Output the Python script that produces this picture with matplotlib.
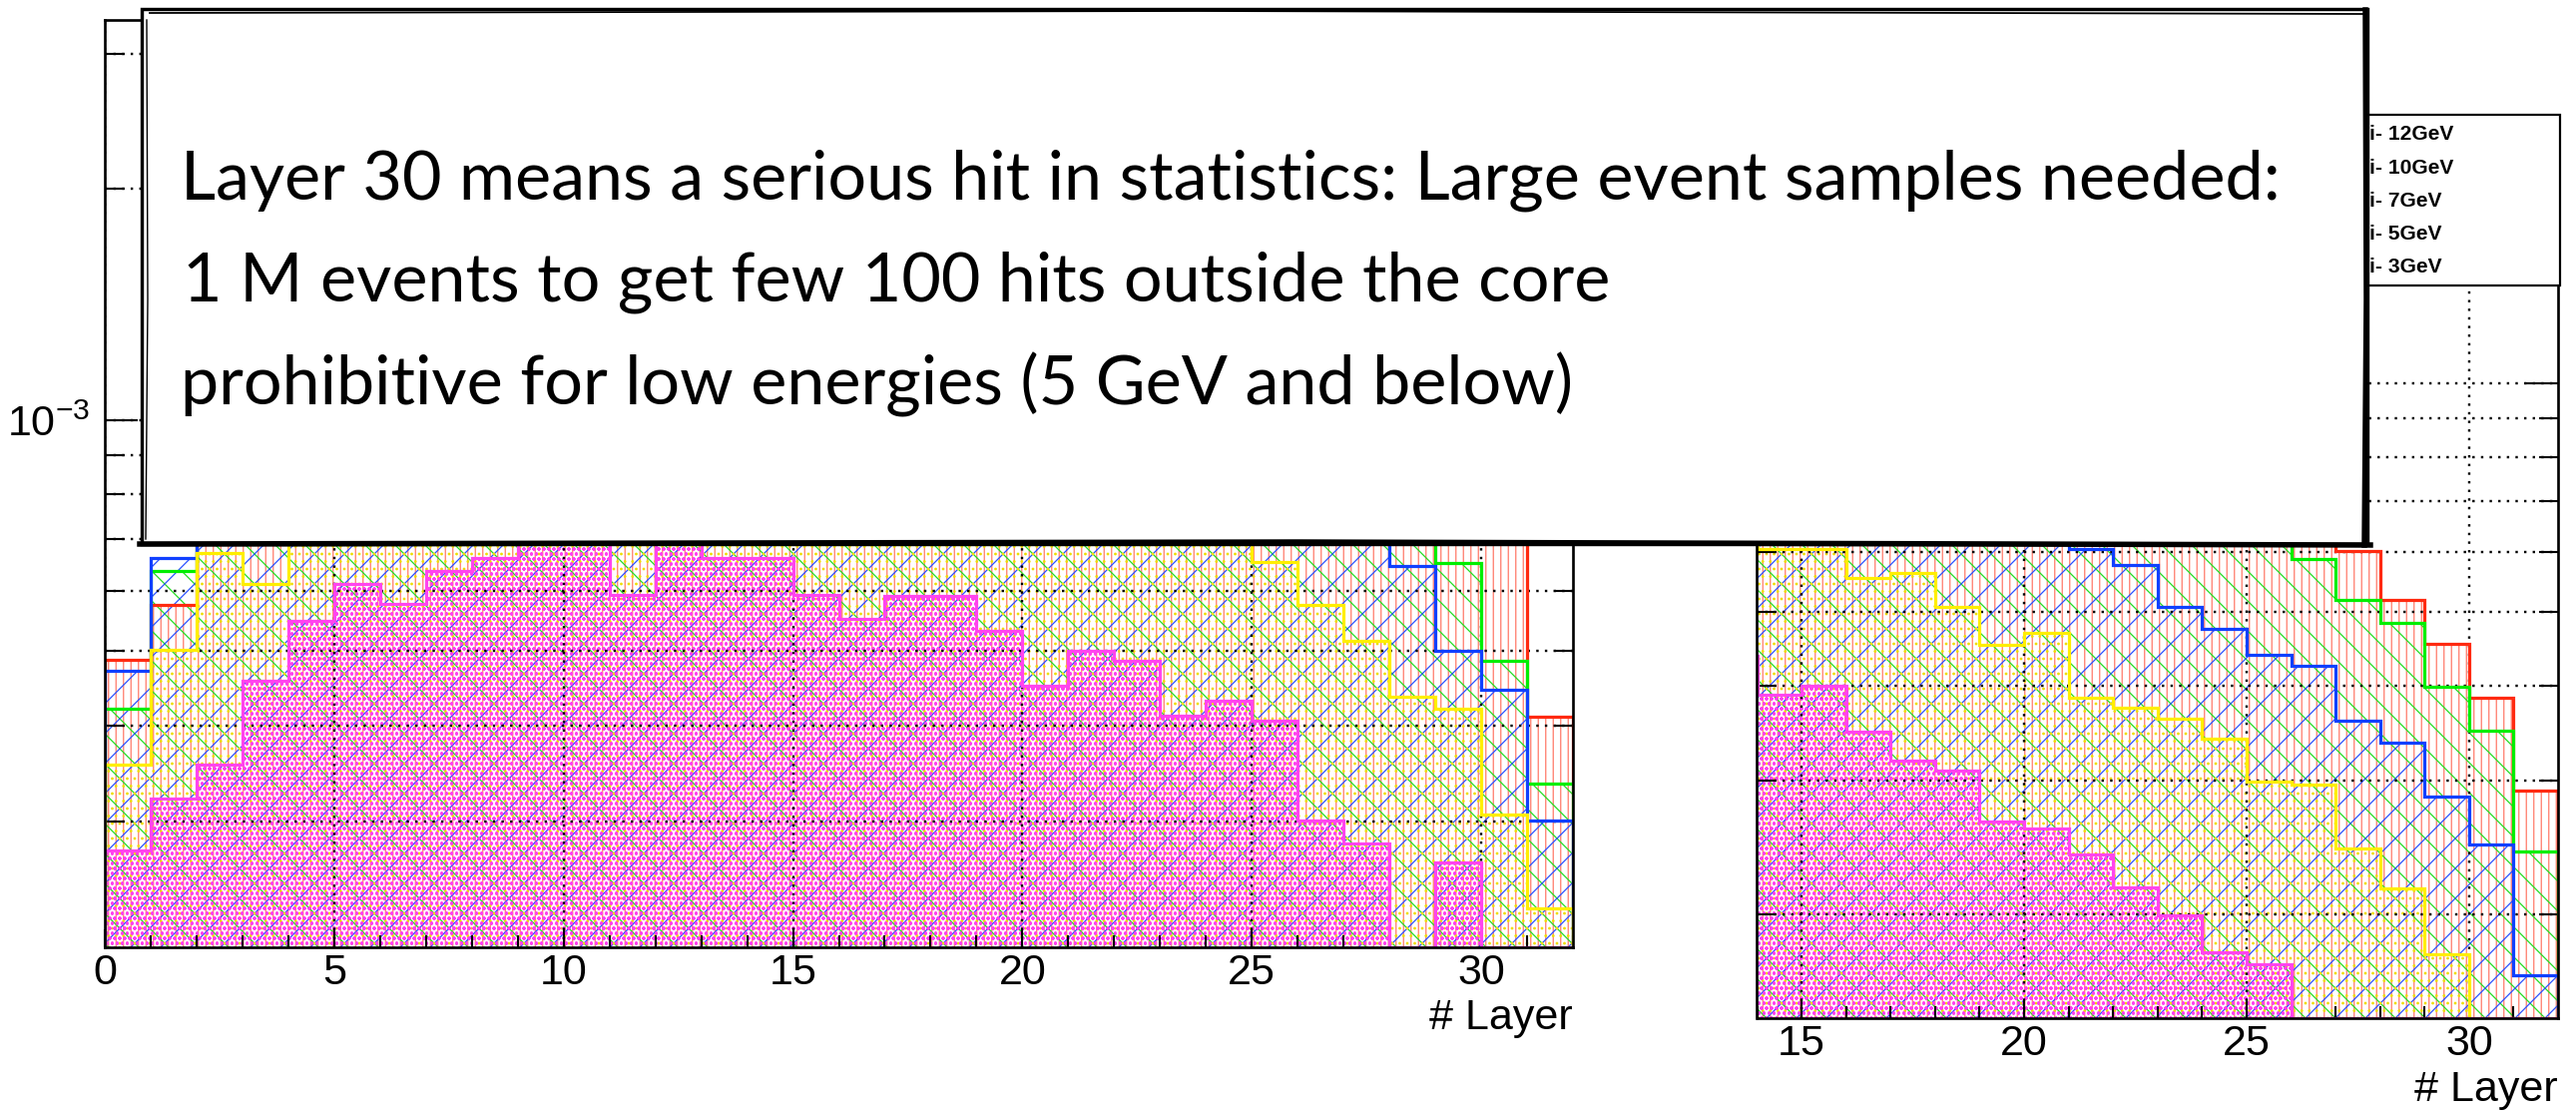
import numpy as np
import matplotlib
matplotlib.use("Agg")
import matplotlib.pyplot as plt
from matplotlib.patches import Rectangle
from matplotlib.ticker import LogLocator, MultipleLocator, NullFormatter

W, H, DPI = 2581, 1114, 90


def P(px):
    """pixel size -> points at the figure dpi"""
    return px * 72.0 / DPI


plt.rcParams['font.family'] = ['Liberation Sans', 'DejaVu Sans']
plt.rcParams['mathtext.fontset'] = 'custom'
plt.rcParams['mathtext.rm'] = 'Liberation Sans'
plt.rcParams['mathtext.it'] = 'Liberation Sans:italic'
plt.rcParams['mathtext.bf'] = 'Liberation Sans:bold'
plt.rcParams['hatch.linewidth'] = P(1.25)

# ---------------- data ----------------
labels = ['Pi- 12GeV', 'Pi- 10GeV', 'Pi- 7GeV', 'Pi- 5GeV', 'Pi- 3GeV']

# left panel: layers 0..31, values in units of 1e-4
left_edges = np.arange(0, 33)
left_12 = np.array([4.87, 5.74, 7.2, 8.0, 8.8, 9.5, 10.2, 10.8, 11.3, 11.8, 12.2, 12.5,
                    12.7, 12.9, 13.0, 13.0, 12.9, 12.8, 12.6, 12.4, 12.1, 11.8, 11.4,
                    11.0, 10.6, 10.2, 9.7, 9.2, 8.7, 8.2, 7.6, 4.11]) * 1e-4
left_10 = np.array([4.21, 6.36, 7.4, 8.2, 9.0, 9.7, 10.3, 10.8, 11.2, 11.6, 11.9, 12.1,
                    12.2, 12.2, 12.1, 12.0, 11.8, 11.6, 11.3, 11.0, 10.7, 10.3, 9.9,
                    9.5, 9.1, 8.7, 8.2, 7.7, 7.2, 6.51, 4.86, 3.36]) * 1e-4
left_7 = np.array([4.71, 6.61, 7.5, 8.3, 9.0, 9.6, 10.1, 10.5, 10.8, 11.0, 11.2, 11.3,
                   11.3, 11.2, 11.1, 10.9, 10.7, 10.4, 10.1, 9.8, 9.5, 9.1, 8.8,
                   8.4, 8.0, 7.7, 7.4, 7.1, 6.46, 5.01, 4.46, 3.01]) * 1e-4
left_5 = np.array([3.56, 5.02, 6.71, 6.12, 7.5, 8.0, 8.4, 8.7, 9.0, 9.2, 9.3, 9.4,
                   9.4, 9.3, 9.2, 9.1, 8.9, 8.7, 8.5, 8.2, 8.0, 7.7, 7.4, 7.2,
                   7.0, 6.53, 5.75, 5.16, 4.36, 4.21, 3.06, 2.31]) * 1e-4
left_3 = np.array([2.75, 3.21, 3.56, 4.57, 5.47, 6.12, 5.76, 6.36, 6.61, 7.0, 7.2, 5.92,
                   7.1, 6.61, 6.61, 5.92, 5.51, 5.91, 5.91, 5.32, 4.51, 5.01, 4.86,
                   4.12, 4.31, 4.06, 3.01, 2.81, 0.0, 2.65, 0.0, 0.0]) * 1e-4

# right panel: layers 13..31 (shown from 14), values in units of 1e-4
right_edges = np.arange(13, 33)
right_12 = np.array([16.8, 16.0, 15.2, 14.5, 13.8, 13.0, 12.2, 11.4, 10.6, 9.8, 9.0,
                     8.2, 7.5, 6.8, 6.02, 5.19, 4.54, 3.86, 2.91]) * 1e-4
right_10 = np.array([14.8, 14.0, 13.2, 12.5, 11.7, 11.0, 10.2, 9.5, 8.8, 8.1, 7.5,
                     6.9, 6.4, 5.87, 5.19, 4.83, 3.98, 3.49, 2.42]) * 1e-4
right_7 = np.array([12.2, 11.5, 10.7, 9.9, 9.1, 8.3, 7.6, 6.8, 6.05, 5.77, 5.07,
                    4.75, 4.39, 4.25, 3.60, 3.36, 2.86, 2.47, 1.66]) * 1e-4
right_5 = np.array([6.3, 6.05, 6.05, 5.55, 5.62, 5.07, 4.52, 4.69, 3.86, 3.74, 3.62,
                    3.40, 2.99, 2.96, 2.44, 2.16, 1.77, 0.0, 0.0]) * 1e-4
right_3 = np.array([4.38, 3.89, 4.00, 3.48, 3.19, 3.09, 2.65, 2.59, 2.40, 2.17, 1.99,
                    1.78, 1.72, 0.0, 0.0, 0.0, 0.0, 0.0, 0.0]) * 1e-4

note_lines = ["Layer 30 means a serious hit in statistics: Large event samples needed:",
              "1 M events to get few 100 hits outside the core",
              "prohibitive for low energies (5 GeV and below)"]

# ---------------- styles ----------------
styles = [
    dict(lc='#ff2a10', hc='#ff7a6a', hatch='||'),
    dict(lc='#00ee00', hc='#22dd22', hatch='\\'),
    dict(lc='#1040ff', hc='#2a50ff', hatch='/'),
    dict(lc='#ffee00', hc='#eedd00', hatch='..'),
    dict(lc='#ff44ee', hc='#ff40f0', hatch='ooo'),
]

fig = plt.figure(figsize=(W / DPI, H / DPI), dpi=DPI)


def px_rect(x0, y0, x1, y1):
    return [x0 / W, 1 - y1 / H, (x1 - x0) / W, (y1 - y0) / H]


axL = fig.add_axes(px_rect(105, 20, 1576, 949), zorder=1)
axR = fig.add_axes(px_rect(1760.5, 115, 2563, 1020), zorder=1)

grid_kw = dict(color='black', linestyle=(0, (1.0, 2.6)), linewidth=P(2.4))
LABEL_PT = P(43)


def draw_panel(ax, edges, series, xlim, ylim):
    ax.set_yscale('log')
    ax.set_xlim(*xlim)
    ax.set_ylim(*ylim)
    floor = ylim[0]
    for vals, st in zip(series, styles):
        vis = np.where(vals > 0, vals, floor)
        ax.stairs(vis, edges, baseline=floor, fill=True, facecolor='none',
                  edgecolor=st['hc'], hatch=st['hatch'], linewidth=0, zorder=1)
    for vals, st in zip(series, styles):
        vis = np.where(vals > 0, vals, floor)
        ax.stairs(vis, edges, baseline=floor, fill=False, color=st['lc'],
                  linewidth=P(3.2), zorder=3)
    ax.yaxis.set_major_locator(LogLocator(base=10, numticks=10))
    ax.yaxis.set_minor_locator(LogLocator(base=10, subs=np.arange(2, 10), numticks=30))
    ax.yaxis.set_minor_formatter(NullFormatter())
    ax.xaxis.set_major_locator(MultipleLocator(5))
    ax.xaxis.set_minor_locator(MultipleLocator(1))
    ax.tick_params(which='both', direction='in', left=True, right=True,
                   top=False, bottom=True, width=P(2.1), labelsize=LABEL_PT, zorder=4)
    ax.xaxis.set_tick_params(which='major', length=P(18), pad=P(5.6))
    ax.xaxis.set_tick_params(which='minor', length=P(12))
    ax.yaxis.set_tick_params(which='major', length=P(33), pad=P(15))
    ax.yaxis.set_tick_params(which='minor', length=P(19.5))
    ax.grid(True, which='major', axis='x', **grid_kw)
    ax.grid(True, which='both', axis='y', **grid_kw)
    ax.set_axisbelow(False)
    for sp in ax.spines.values():
        sp.set_linewidth(P(2.65))
        sp.set_zorder(5)
    ax.set_xlabel('# Layer', loc='right', fontsize=LABEL_PT)


draw_panel(axL, left_edges, [left_12, left_10, left_7, left_5, left_3],
           (0, 32), (2.057e-4, 3.322e-3))
axL.xaxis.set_label_coords(1.0, -0.055)

draw_panel(axR, right_edges, [right_12, right_10, right_7, right_5, right_3],
           (14, 32), (1.459e-4, 2.257e-3))
axR.xaxis.set_label_coords(1.0, -0.057)

# ---------------- legend (partly hidden behind the note box) ----------------
axLeg = fig.add_axes([0, 0, 1, 1], zorder=5)
axLeg.set_xlim(0, W)
axLeg.set_ylim(H, 0)
axLeg.axis('off')
axLeg.add_patch(Rectangle((2150, 115), 2565 - 2150, 286 - 115, facecolor='white',
                          edgecolor='black', linewidth=P(2.2)))
for i, (lab, st) in enumerate(zip(labels, styles)):
    yc = 135 + i * 33.2
    axLeg.add_patch(Rectangle((2170, yc - 11), 70, 22, facecolor='none',
                              edgecolor=st['lc'], hatch=st['hatch'], linewidth=P(2)))
    axLeg.text(2360, yc, lab, fontsize=P(21), fontweight='bold', va='center', ha='left')

# ---------------- note box ----------------
axBox = fig.add_axes([0, 0, 1, 1], zorder=10)
axBox.set_xlim(0, W)
axBox.set_ylim(H, 0)
axBox.axis('off')
axBox.add_patch(Rectangle((142, 9), 2230, 536, facecolor='white', edgecolor='black',
                          linewidth=P(3.4), joinstyle='miter'))
# sketchy doubled strokes of the border
axBox.plot([150, 1200, 2370], [13, 11, 14], color='black', lw=P(1.8))
axBox.plot([147, 148, 146], [20, 300, 540], color='black', lw=P(1.4))
axBox.plot([140, 1300, 2375], [545, 543, 546], color='black', lw=P(5.5))
axBox.plot([2370, 2371, 2369], [10, 300, 546], color='black', lw=P(5.5))

txt_y = [200, 302, 405]
txt_x = [181, 183, 181]
fs = 50
texts = []
for s, x, y in zip(note_lines, txt_x, txt_y):
    texts.append(axBox.text(x, y, s, fontsize=fs, family=['Lato', 'DejaVu Sans'],
                            va='baseline', ha='left', color='black'))
fig.canvas.draw()
r = fig.canvas.get_renderer()
wid = texts[0].get_window_extent(r).width
scale = 2104.0 / wid
for t in texts:
    t.set_fontsize(fs * scale)

fig.savefig('out.png', dpi=DPI, facecolor='white')
